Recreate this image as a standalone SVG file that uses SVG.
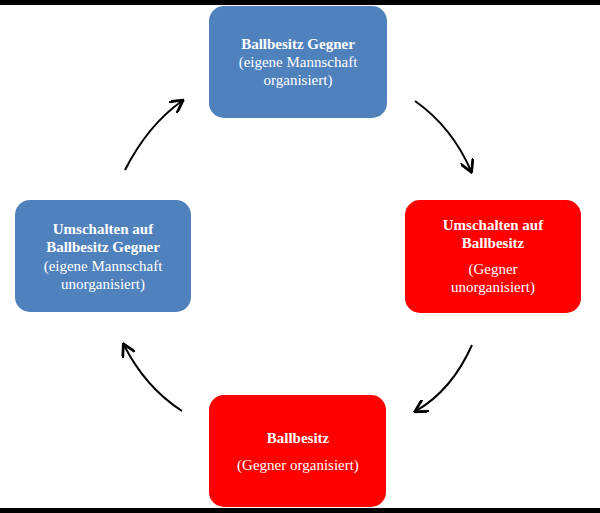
<svg xmlns="http://www.w3.org/2000/svg" width="600" height="513" viewBox="0 0 600 513">
<style>
.b{fill:#4F81BD}.r{fill:#FF0000}
text{font-family:"Liberation Serif",serif;font-size:15px;fill:#fff;text-anchor:middle}
.t{font-weight:bold}
.c{fill:none;stroke:#000;stroke-width:2;marker-end:url(#a)}
</style>
<defs><marker id="a" viewBox="0 0 10 10" refX="8" refY="5" markerWidth="7" markerHeight="7" orient="auto"><path d="M0,0 L9,5 L0,10" fill="none" stroke="#000" stroke-width="2"/></marker></defs>
<rect width="600" height="513" fill="#fff"/>
<rect x="0" y="0" width="600" height="5" fill="#000"/>
<rect x="0" y="508" width="600" height="5" fill="#000"/>
<g id="top"><rect class="b" x="209" y="6" width="178" height="112" rx="15"/>
<text x="298" y="49" class="t">Ballbesitz Gegner</text><text x="298" y="67">(eigene Mannschaft</text><text x="298" y="85">organisiert)</text></g>
<g id="right"><rect class="r" x="405" y="200" width="176" height="113" rx="15"/>
<text x="493" y="230" class="t">Umschalten auf</text><text x="493" y="248" class="t">Ballbesitz</text><text x="493" y="274">(Gegner</text><text x="493" y="292">unorganisiert)</text></g>
<g id="bottom"><rect class="r" x="209" y="395" width="177" height="112" rx="15"/>
<text x="298" y="443" class="t">Ballbesitz</text><text x="298" y="470">(Gegner organisiert)</text></g>
<g id="left"><rect class="b" x="15" y="200" width="176" height="112" rx="15"/>
<text x="103" y="234" class="t">Umschalten auf</text><text x="103" y="252" class="t">Ballbesitz Gegner</text><text x="103" y="271">(eigene Mannschaft</text><text x="103" y="289">unorganisiert)</text></g>
<g id="connectors">
<path class="c" d="M125,170 Q148,125 182,101"/>
<path class="c" d="M415,101 Q452,127 471,171"/>
<path class="c" d="M472,345 Q452,390 416,411"/>
<path class="c" d="M182,411 Q145,387 124,345"/>
</g>
</svg>
